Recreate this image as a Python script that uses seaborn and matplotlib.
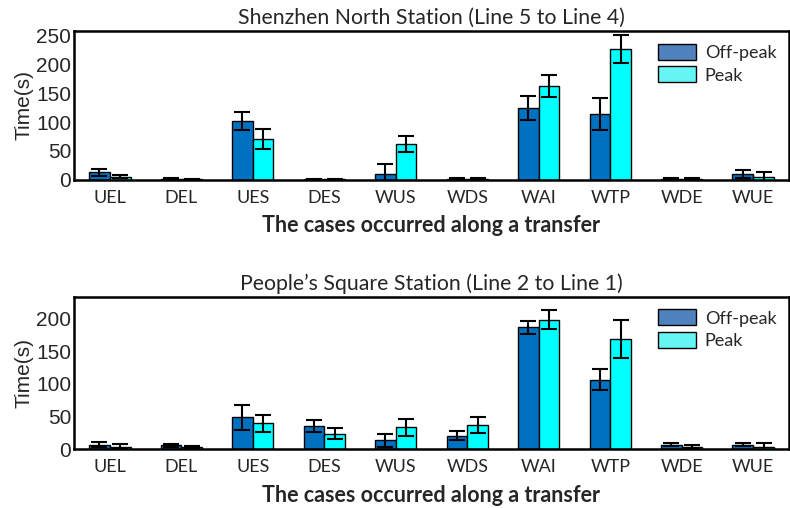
import matplotlib
matplotlib.use("Agg")
import matplotlib.pyplot as plt
from matplotlib.patches import Patch
import numpy as np
import pandas as pd
import seaborn as sns

cases = ["UEL", "DEL", "UES", "DES", "WUS", "WDS", "WAI", "WTP", "WDE", "WUE"]
periods = ["Off-peak", "Peak"]

# Shenzhen North Station (Line 5 to Line 4)
sz_off = [13, 2, 102, 1, 11, 2, 124, 114, 2, 11]
sz_off_err = [6, 2, 16, 1, 16, 1, 21, 28, 1, 7]
sz_peak = [6, 1.5, 71, 1, 62, 2, 162, 226, 2, 6]
sz_peak_err = [2, 1, 17, 1, 14, 1, 19, 24, 1.5, 7]

# People's Square Station (Line 2 to Line 1)
ps_off = [7, 6, 49, 35, 14, 21, 186, 106, 7, 7]
ps_off_err = [4, 2, 19, 9, 10, 7, 10, 16, 2, 2]
ps_peak = [4, 4, 40, 24, 34, 37, 198, 169, 4, 4]
ps_peak_err = [4, 1.5, 13, 8, 13, 12, 14, 29, 2, 5]

bar_colors = ["#0070C0", "#00FFFF"]
legend_colors = ["#4F81BD", "#66F5F5"]

sns.set_style("white")
label_font = ["Lato", "DejaVu Sans"]
num_font = ["Liberation Sans", "DejaVu Sans"]


def draw_panel(ax, title, off, off_err, peak, peak_err, ymax, yticks):
    df = pd.DataFrame({
        "case": cases * 2,
        "period": [periods[0]] * len(cases) + [periods[1]] * len(cases),
        "time": off + peak,
    })
    sns.barplot(data=df, x="case", y="time", hue="period", order=cases,
                hue_order=periods, palette=bar_colors, width=0.58,
                errorbar=None, edgecolor="black", linewidth=1.0,
                saturation=1, ax=ax, legend=False)
    for cont, vals, errs in zip(ax.containers, [off, peak], [off_err, peak_err]):
        xs = [p.get_x() + p.get_width() / 2 for p in cont.patches]
        ax.errorbar(xs, vals, yerr=errs, fmt="none", ecolor="black",
                    elinewidth=1.5, capsize=5.5, capthick=1.5, zorder=5)
    ax.set_xlim(-0.5, len(cases) - 0.5)
    ax.set_ylim(0, ymax)
    ax.set_yticks(yticks)
    ax.set_yticklabels([str(t) for t in yticks], family=num_font, fontsize=15)
    ax.set_xticks(range(len(cases)))
    ax.set_xticklabels(cases, family=label_font, fontsize=13)
    ax.tick_params(axis="x", length=0, pad=7)
    ax.tick_params(axis="y", length=0, pad=2)
    ax.set_ylabel("Time(s)", family=num_font, fontsize=15, labelpad=2)
    ax.set_xlabel("The cases occurred along a transfer", family=label_font,
                  fontsize=15.5, fontweight="bold", labelpad=7)
    ax.set_title(title, family=label_font, fontsize=15.3, pad=5)
    for sp in ax.spines.values():
        sp.set_visible(True)
        sp.set_color("black")
        sp.set_linewidth(1.8)
    handles = [Patch(facecolor=c, edgecolor="black", linewidth=1.0, label=l)
               for c, l in zip(legend_colors, periods)]
    ax.legend(handles=handles, loc="upper right", frameon=False,
              prop={"family": label_font, "size": 13},
              handlelength=2.1, handleheight=1.0, borderaxespad=0.3,
              labelspacing=0.3, handletextpad=0.5)


fig = plt.figure(figsize=(7.9, 5.08), dpi=100)
ax1 = fig.add_axes([0.0937, 0.6457, 0.905, 0.2933])
ax2 = fig.add_axes([0.0937, 0.1155, 0.905, 0.3005])

draw_panel(ax1, "Shenzhen North Station (Line 5 to Line 4)",
           sz_off, sz_off_err, sz_peak, sz_peak_err, 257, [0, 50, 100, 150, 200, 250])
draw_panel(ax2, "People\u2019s Square Station (Line 2 to Line 1)",
           ps_off, ps_off_err, ps_peak, ps_peak_err, 233, [0, 50, 100, 150, 200])

fig.savefig("out.png", dpi=100)
